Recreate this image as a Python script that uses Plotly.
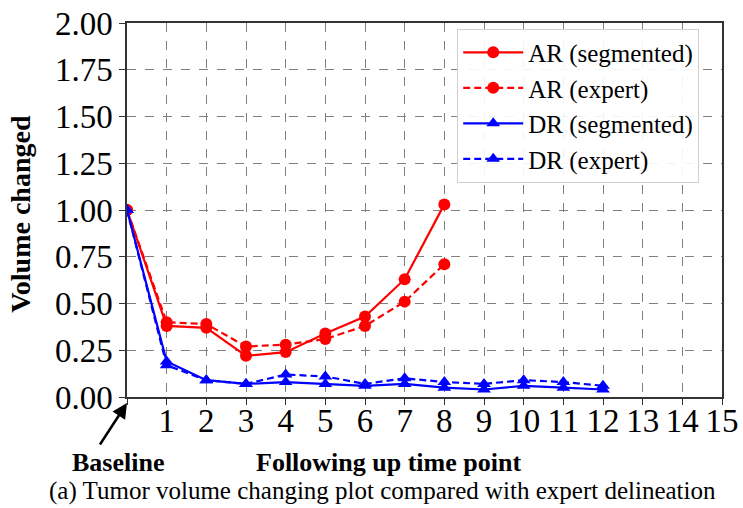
import plotly.graph_objects as go

x_ar = [0, 1, 2, 3, 4, 5, 6, 7, 8]
ar_seg = [1.00, 0.38, 0.37, 0.22, 0.24, 0.34, 0.43, 0.63, 1.03]
ar_exp = [1.00, 0.40, 0.39, 0.27, 0.28, 0.31, 0.38, 0.51, 0.71]
x_dr = [0, 1, 2, 3, 4, 5, 6, 7, 8, 9, 10, 11, 12]
dr_seg = [1.00, 0.19, 0.09, 0.07, 0.08, 0.07, 0.06, 0.07, 0.05, 0.04, 0.06, 0.05, 0.04]
dr_exp = [1.00, 0.17, 0.09, 0.07, 0.12, 0.11, 0.07, 0.10, 0.08, 0.07, 0.09, 0.08, 0.06]
x_ticks = list(range(0, 16))
x_ticktext = [""] + [str(i) for i in range(1, 16)]
y_ticks = [0, 0.25, 0.5, 0.75, 1.0, 1.25, 1.5, 1.75, 2.0]

FONT = "Liberation Serif"
RED = "#ff0000"
BLUE = "#0000ff"
DASH = "7px,4px"

fig = go.Figure()
fig.add_trace(go.Scatter(x=x_ar, y=ar_seg, name="AR (segmented)", mode="lines+markers",
                         line=dict(color=RED, width=2.2), marker=dict(symbol="circle", size=12, color=RED)))
fig.add_trace(go.Scatter(x=x_ar, y=ar_exp, name="AR (expert)", mode="lines+markers",
                         line=dict(color=RED, width=2.2, dash=DASH), marker=dict(symbol="circle", size=12, color=RED)))
fig.add_trace(go.Scatter(x=x_dr, y=dr_seg, name="DR (segmented)", mode="lines+markers",
                         line=dict(color=BLUE, width=2.2), marker=dict(symbol="triangle-up", size=12, color=BLUE)))
fig.add_trace(go.Scatter(x=x_dr, y=dr_exp, name="DR (expert)", mode="lines+markers",
                         line=dict(color=BLUE, width=2.2, dash=DASH), marker=dict(symbol="triangle-up", size=12, color=BLUE)))

fig.update_layout(
    width=743, height=508,
    margin=dict(l=127, r=21, t=23, b=111),
    paper_bgcolor="white", plot_bgcolor="white",
    font=dict(family=FONT, color="black"),
    showlegend=True,
    legend=dict(x=0.555, y=0.985, xanchor="left", yanchor="top",
                bgcolor="rgba(255,255,255,0.9)", bordercolor="#d0d0d0", borderwidth=1,
                font=dict(family=FONT, size=25), tracegroupgap=0, itemwidth=60),
    xaxis=dict(range=[0, 15], tickvals=x_ticks, ticktext=x_ticktext, automargin=False,
               tickfont=dict(family=FONT, size=33), ticks="outside", ticklen=6, tickcolor="#333",
               ticklabelstandoff=-12,
               showline=True, linecolor="#333", linewidth=1.5, mirror=True,
               showgrid=True, gridcolor="#808080", griddash="dash", gridwidth=1, zeroline=False),
    yaxis=dict(range=[0, 2], tickvals=y_ticks, tickformat=".2f", automargin=False,
               tickfont=dict(family=FONT, size=33), ticks="outside", ticklen=6, tickcolor="#333",
               showline=True, linecolor="#333", linewidth=1.5, mirror=True,
               showgrid=True, gridcolor="#808080", griddash="dash", gridwidth=1, zeroline=False),
)

# Y axis title
fig.add_annotation(x=-0.178, y=0.49, xref="paper", yref="paper", text="<b>Volume changed</b>",
                   textangle=-90, showarrow=False, font=dict(family=FONT, size=28),
                   xanchor="center", yanchor="middle")
# Arrow pointing to baseline (x=0)
fig.add_annotation(x=0, y=0, xref="x", yref="y", ax=-28, ay=43, axref="pixel", ayref="pixel",
                   yshift=-6, showarrow=True, arrowhead=2, arrowsize=1.2, arrowwidth=2.5,
                   arrowcolor="black", text="")
fig.add_annotation(x=-0.015, y=-0.174, xref="paper", yref="paper", text="<b>Baseline</b>",
                   showarrow=False, font=dict(family=FONT, size=26), xanchor="center", yanchor="middle")
fig.add_annotation(x=0.439, y=-0.174, xref="paper", yref="paper", text="<b>Following up time point</b>",
                   showarrow=False, font=dict(family=FONT, size=26), xanchor="center", yanchor="middle")
fig.add_annotation(x=0.429, y=-0.251, xref="paper", yref="paper",
                   text="(a) Tumor volume changing plot compared with expert delineation",
                   showarrow=False, font=dict(family=FONT, size=25), xanchor="center", yanchor="middle")

fig.write_html("out.html")
